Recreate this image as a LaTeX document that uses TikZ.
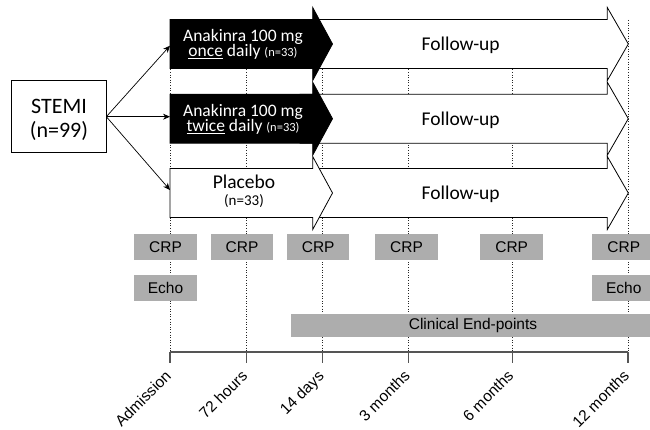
\documentclass[tikz,border=0pt]{standalone}
\usepackage{fontspec}
\setmainfont{Carlito}
\newfontfamily\arialf{Liberation Sans}
\usetikzlibrary{arrows.meta}
\definecolor{boxgray}{RGB}{173,173,173}
\definecolor{axisgray}{RGB}{85,85,85}
\begin{document}
\begin{tikzpicture}[x=1pt,y=-1pt,
  dotv/.style={dotted, line width=0.6pt, black!85},
  blackarrow/.style={fill=black, draw=black, line width=0.8pt},
  whitearrow/.style={fill=white, draw=black, line width=0.8pt},
  graybox/.style={fill=boxgray, draw=none, inner sep=0, minimum height=26,
    font=\arialf\fontsize{15.5}{18}\selectfont},
  axisline/.style={draw=axisgray, line width=1.1pt},
  ticklabel/.style={font=\arialf\fontsize{15.5}{18}\selectfont, rotate=45,
    anchor=base east, inner sep=0},
  conn/.style={-{Stealth[length=7pt,width=6pt]}, line width=0.7pt},
  fup/.style={font=\fontsize{19.5}{22}\selectfont, anchor=base, inner sep=0}
]
\useasboundingbox (0,0) rectangle (650,430);

% dotted time lines
\foreach \tx in {170,246.5,322.7,408.7,512.3,628}
  \draw[dotv] (\tx,20) -- (\tx,352);

% follow-up arrows
\foreach \c/\nm in {44/f1,118.7/f2,193/f3}{
  \draw[whitearrow] (300,{\c-24.5}) -- (607.3,{\c-24.5}) -- (607.3,{\c-36.5})
    -- (628.3,\c) -- (607.3,{\c+36.5}) -- (607.3,{\c+24.5}) -- (300,{\c+24.5}) -- cycle;
  \node[fup] (\nm) at (460.7,{\c+7}) {Follow-up};
}

% treatment arrows
\draw[blackarrow] (170,19.5) -- (312.7,19.5) -- (312.7,7.5) -- (332.5,44)
  -- (312.7,80.5) -- (312.7,68.5) -- (170,68.5) -- cycle;
\draw[blackarrow] (170,94.2) -- (312.7,94.2) -- (312.7,82.2) -- (332.5,118.7)
  -- (312.7,155.2) -- (312.7,143.2) -- (170,143.2) -- cycle;
\draw[whitearrow] (170,168.5) -- (312.7,168.5) -- (312.7,156.5) -- (332.5,193)
  -- (312.7,229.5) -- (312.7,217.5) -- (170,217.5) -- cycle;

\node[text=white, align=center, inner sep=0,
  font={\fontsize{17.5}{15}\selectfont\lineskiplimit=-20pt}] (once) at (243,44.5)
  {Anakinra 100 mg\\\underline{once} daily {\fontsize{12.5}{15}\selectfont (n=33)}};
\node[text=white, align=center, inner sep=0,
  font={\fontsize{17.5}{15}\selectfont\lineskiplimit=-20pt}] (twice) at (243,119.2)
  {Anakinra 100 mg\\\underline{twice} daily {\fontsize{12.5}{15}\selectfont (n=33)}};
\node[align=center, inner sep=0,
  font={\fontsize{19.5}{17}\selectfont\lineskiplimit=-20pt}] (placebo) at (244,191)
  {Placebo\\{\fontsize{15}{17}\selectfont (n=33)}};

% STEMI
\node[draw, line width=0.8pt, fill=white, minimum width=94.3, minimum height=72, inner sep=0]
  (stemi) at (58.8,116.7) {};
\node[align=center, inner sep=0,
  font={\fontsize{22}{23.4}\selectfont\lineskiplimit=-20pt}] (stemitxt) at (59,120)
  {STEMI\\(n=99)};
\coordinate (t1) at (170,45.7);
\coordinate (t2) at (170,116.7);
\coordinate (t3) at (170,190);
\draw[conn] (stemi.east) -- (t1);
\draw[conn] (stemi.east) -- (t2);
\draw[conn] (stemi.east) -- (t3);

% measurement boxes
\node[graybox, minimum width=63] (crp1) at (165.5,247) {CRP};
\node[graybox, minimum width=62.6] (crp2) at (242,247) {CRP};
\node[graybox, minimum width=62.3] (crp3) at (318.2,247) {CRP};
\node[graybox, minimum width=63] (crp4) at (406.5,247) {CRP};
\node[graybox, minimum width=63.3] (crp5) at (511.7,247) {CRP};
\node[graybox, minimum width=63] (crp6) at (623.8,247) {CRP};
\node[graybox, minimum width=63] (echo1) at (165.5,288) {Echo};
\node[graybox, minimum width=63] (echo2) at (623.8,288) {Echo};
\node[graybox, minimum width=364, minimum height=23] (clin) at (473,325.5) {Clinical End-points};

% time axis
\draw[axisline] (170,352) -- (628,352);
\foreach \tx/\lab/\nm in {170/Admission/l1,246.3/72 hours/l2,322.7/14 days/l3,
  408.7/3 months/l4,512.3/6 months/l5,628/12 months/l6}{
  \draw[axisline] (\tx,352) -- (\tx,363.3);
  \node[ticklabel] (\nm) at ({\tx+2.2},377) {\lab};
}
\end{tikzpicture}
\end{document}
